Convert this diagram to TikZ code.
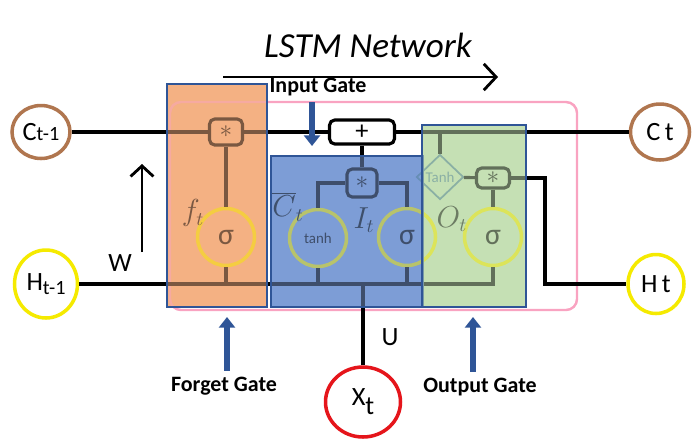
\documentclass[tikz,border=0pt]{standalone}
\usepackage{fontspec}
\setmainfont{Carlito}
\usetikzlibrary{arrows.meta,shapes.geometric}

\definecolor{gateorange}{HTML}{F4B183}
\definecolor{gateblue}{HTML}{7D9DD6}
\definecolor{gategreen}{HTML}{C5E0B4}
\definecolor{gateedge}{HTML}{2F5597}
\definecolor{cellpink}{HTML}{F9A3C1}
\definecolor{ringbrown}{HTML}{B0764F}
\definecolor{ringyellow}{HTML}{F5EA00}
\definecolor{ringred}{HTML}{E5151B}
\definecolor{tanhgrey}{HTML}{4F7F95}

\begin{document}
\begin{tikzpicture}[
    x=0.02cm, y=-0.02cm,
    wire/.style={line width=1.8pt, black},
    state/.style={
        draw,
        ellipse,
        line width=2pt,
        inner sep=0pt
    },
    act/.style={
        draw=ringyellow,
        circle,
        line width=2pt,
        minimum size=1.14cm,
        inner sep=0pt,
        font=\fontsize{17}{17}\selectfont
    },
    opbox/.style={
        draw,
        rounded corners=3pt,
        line width=1.8pt,
        inner sep=0pt,
        font=\fontsize{15}{15}\selectfont
    },
    gatefill/.style={fill=#1},
    gatetint/.style={fill=#1, fill opacity=0.5, draw=gateedge, line width=1.2pt},
    gatearrow/.style={-{Triangle[length=6pt,width=9pt]}, line width=3.4pt, gateedge},
    gatelab/.style={font=\fontsize{12.5}{12.5}\selectfont\bfseries},
    sym/.style={font=\fontsize{16}{16}\selectfont, inner sep=1pt}
]
\useasboundingbox (0,0) rectangle (692,441);

%------------------------------------------------
% Gate backgrounds and cell outline
%------------------------------------------------
\fill[gatefill=gateorange] (167,84) rectangle (267,307);
\fill[gatefill=gateblue]   (271,156) rectangle (423,307);
\fill[gatefill=gategreen]  (422,125) rectangle (526,307);

\draw[cellpink, line width=1.4pt, rounded corners=0.22cm] (170,102) rectangle (577,310);

%------------------------------------------------
% Nodes
%------------------------------------------------
\node[state, draw=ringbrown, minimum width=1.16cm, minimum height=1.06cm] (cprev) at (41,132)
    {{\fontsize{15}{15}\selectfont C}{\fontsize{11.5}{11.5}\selectfont t-1}};
\node[state, draw=ringbrown, minimum width=1.18cm, minimum height=1.12cm] (cnext) at (660,132)
    {{\fontsize{15}{15}\selectfont C\,t}};
\node[state, draw=ringyellow, minimum width=1.26cm, minimum height=1.36cm] (hprev) at (46,284)
    {{\fontsize{15}{15}\selectfont H}\raisebox{-2pt}{\fontsize{11.5}{11.5}\selectfont t-1}};
\node[state, draw=ringyellow, minimum width=1.12cm, minimum height=1.18cm] (hnext) at (656,284)
    {{\fontsize{15}{15}\selectfont H\,t}};
\node[state, draw=ringred, minimum width=1.5cm, minimum height=1.4cm] (xin) at (363,402)
    {{\fontsize{15}{15}\selectfont X}\raisebox{-5pt}{\fontsize{15}{15}\selectfont t}};

% forget gate
\node[opbox, minimum width=0.66cm, minimum height=0.52cm] (fmul) at (226,132) {$\ast$};
\node[act] (fsig) at (226,237) {σ};

% input gate
\node[opbox, fill=white, minimum width=1.3cm, minimum height=0.48cm] (add) at (362,132) {+};
\node[opbox, minimum width=0.6cm, minimum height=0.56cm] (imul) at (362,183) {$\ast$};
\node[act, font=\fontsize{8.5}{8.5}\selectfont] (itanh) at (318,238) {tanh};
\node[act] (isig) at (407,237) {σ};

% output gate
\node[draw=tanhgrey, diamond, line width=1pt, minimum width=0.94cm, minimum height=0.9cm,
      inner sep=0pt, text=tanhgrey, font=\fontsize{8.5}{8.5}\selectfont] (odiam) at (440,177) {Tanh};
\node[opbox, minimum width=0.66cm, minimum height=0.4cm] (omul) at (493,178) {$\ast$};
\node[act] (osig) at (493,237) {σ};

\coordinate (oturn) at (545,284);

%------------------------------------------------
% Wires
%------------------------------------------------
\draw[wire] (cprev) -- (fmul) -- (add) -- (cnext);
\draw[wire] (hprev) -- (hprev -| osig) -- (osig);

\draw[wire] (fmul) -- (fsig);
\draw[wire] (fsig) -- (fsig |- hprev);

\draw[wire] (add) -- (imul);
\draw[wire] (imul) -| (itanh);
\draw[wire] (imul) -| (isig);
\draw[wire] (itanh) -- (itanh |- hprev);
\draw[wire] (isig) -- (isig |- hprev);
\draw[wire] (xin) -- (xin |- hprev);

\draw[wire] (odiam |- add) -- (odiam);
\draw[wire] (odiam) -- (omul);
\draw[wire] (omul) -- (osig);
\draw[wire] (omul) -| (oturn) -- (hnext);

%------------------------------------------------
% Gate tints (drawn over the wires)
%------------------------------------------------
\filldraw[gatetint=gateorange] (167,84) rectangle (267,307);
\filldraw[gatetint=gateblue]   (271,156) rectangle (423,307);
\filldraw[gatetint=gategreen]  (422,125) rectangle (526,307);

%------------------------------------------------
% Labels
%------------------------------------------------
\node[sym, text=black!50!gateorange] (flab) at (193,213) {$f_t$};
\node[sym, text=black!50!gateblue] (clab) at (288,207) {$\overline{C}_t$};
\node[sym, text=black!50!gateblue] (ilab) at (364,220) {$I_t$};
\node[sym, text=black!45!gategreen] (olab) at (452,219) {$O_t$};

\node[font=\fontsize{20}{20}\selectfont\itshape] (title) at (368,45) {LSTM Network};
\node[font=\fontsize{15}{15}\selectfont] (wlab) at (120,263) {W};
\node[font=\fontsize{15}{15}\selectfont] (ulab) at (390,337) {U};

\node[gatelab] (ingate)  at (318,87)  {Input Gate};
\node[gatelab] (fgate)   at (224,386) {Forget Gate};
\node[gatelab] (outgate) at (480,387) {Output Gate};

%------------------------------------------------
% Arrows
%------------------------------------------------
\coordinate (tstart) at (223,77);
\coordinate (tend)   at (498,77);
\draw[line width=1.6pt, -{Straight Barb[length=7pt,width=15pt]}] (tstart) -- (tend);

\coordinate (wfoot) at (142,252);
\coordinate (wtip)  at (142,164);
\draw[line width=1.6pt, -{Straight Barb[length=6pt,width=13pt]}] (wfoot) -- (wtip);

\coordinate (intip) at (312,146);
\draw[gatearrow] (ingate.south -| intip) -- (intip);

\coordinate (ftip) at (227,317);
\draw[gatearrow] (fgate.north -| ftip) -- (ftip);

\coordinate (otip) at (473,317);
\draw[gatearrow] (outgate.north -| otip) -- (otip);

\end{tikzpicture}
\end{document}
